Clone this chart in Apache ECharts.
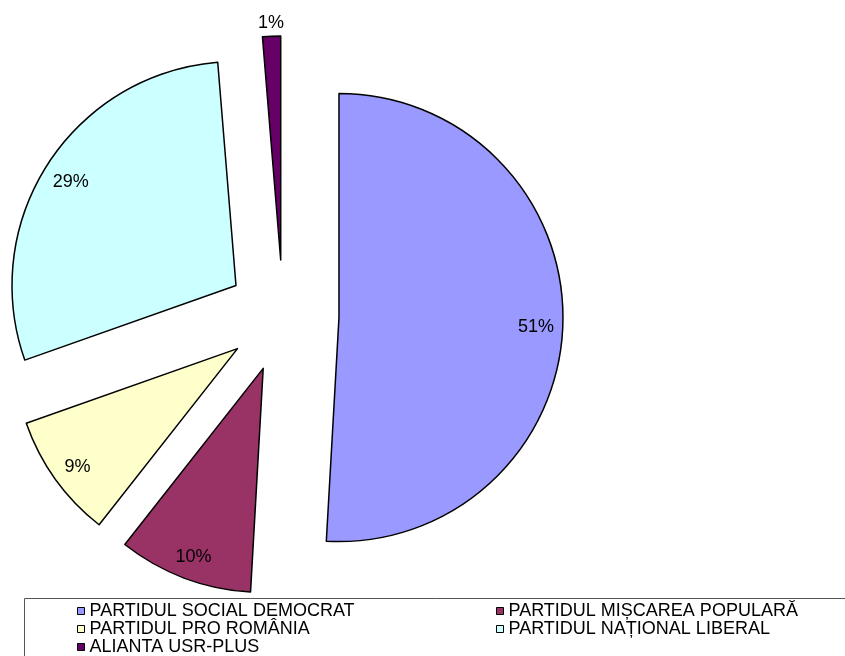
<!DOCTYPE html>
<html>
<head>
<meta charset="utf-8">
<script src="https://cdn.jsdelivr.net/npm/echarts@6/dist/echarts.min.js"></script>
<style>
  html, body { margin: 0; padding: 0; background: #fff; }
  #chart { width: 845px; height: 656px; }
</style>
</head>
<body>
<div id="chart"></div>
<script>
// Data
const categories = [
  'PARTIDUL SOCIAL DEMOCRAT',
  'PARTIDUL MIȘCAREA POPULARĂ',
  'PARTIDUL PRO ROMÂNIA',
  'PARTIDUL NAȚIONAL LIBERAL',
  'ALIANTA USR-PLUS'
];
const values = [50.9, 9.7, 9.0, 29.1, 1.3];
const colors = ['#9999FF', '#993366', '#FFFFCC', '#CCFFFF', '#660066'];
const legendColumn1 = ['PARTIDUL SOCIAL DEMOCRAT', 'PARTIDUL PRO ROMÂNIA', 'ALIANTA USR-PLUS'];
const legendColumn2 = ['PARTIDUL MIȘCAREA POPULARĂ', 'PARTIDUL NAȚIONAL LIBERAL'];
const outerLabelItems = ['ALIANTA USR-PLUS'];

const FONT = 'Liberation Sans, Arial, sans-serif';
const CENTER = [283, 316];
const OFFSET = 56;

const mainData = categories.map((name, i) => ({
  name, value: values[i], selected: true,
  itemStyle: { color: colors[i] }
}));

function labelData(showOuter) {
  return categories.map((name, i) => ({
    name, value: values[i], selected: true,
    label: { show: outerLabelItems.includes(name) === showOuter }
  }));
}

const baseSeries = {
  type: 'pie',
  center: CENTER,
  startAngle: 90,
  clockwise: true,
  selectedMode: 'multiple',
  selectedOffset: OFFSET,
  avoidLabelOverlap: false,
  percentPrecision: 0,
  animation: false,
  emphasis: { disabled: true, scale: false },
  labelLine: { show: false }
};

const labelStyle = {
  position: 'inside',
  formatter: '{d}%',
  color: '#000',
  fontFamily: FONT,
  fontSize: 18
};

const legendBase = {
  orient: 'vertical',
  top: 602,
  height: 80,
  padding: 0,
  itemWidth: 7, itemHeight: 7, itemGap: 0,
  icon: 'rect',
  selectedMode: false,
  itemStyle: { borderColor: '#000', borderWidth: 1 },
  textStyle: { color: '#000', fontFamily: FONT, fontSize: 18, lineHeight: 18 }
};

const chart = echarts.init(document.getElementById('chart'), null, { renderer: 'canvas' });
chart.setOption({
  backgroundColor: '#fff',
  animation: false,
  legend: [
    Object.assign({}, legendBase, { data: legendColumn1, left: 77 }),
    Object.assign({}, legendBase, { data: legendColumn2, left: 496 })
  ],
  graphic: [
    {
      type: 'rect',
      silent: true,
      shape: { x: 24.5, y: 598.5, width: 900, height: 100 },
      style: { fill: 'none', stroke: '#555', lineWidth: 1 }
    }
  ],
  series: [
    Object.assign({}, baseSeries, {
      name: 'main',
      radius: [0, 224],
      itemStyle: { borderColor: '#000', borderWidth: 1.5 },
      label: { show: false },
      data: mainData
    }),
    Object.assign({}, baseSeries, {
      name: 'labelsInner',
      radius: [0, 388],
      silent: true,
      itemStyle: { color: 'rgba(0,0,0,0)', borderWidth: 0 },
      label: labelStyle,
      labelLayout: { dy: 4 },
      data: labelData(false)
    }),
    Object.assign({}, baseSeries, {
      name: 'labelsOuter',
      radius: [0, 474],
      silent: true,
      itemStyle: { color: 'rgba(0,0,0,0)', borderWidth: 0 },
      label: labelStyle,
      labelLayout: { dy: 3 },
      data: labelData(true)
    })
  ]
});
</script>
</body>
</html>
